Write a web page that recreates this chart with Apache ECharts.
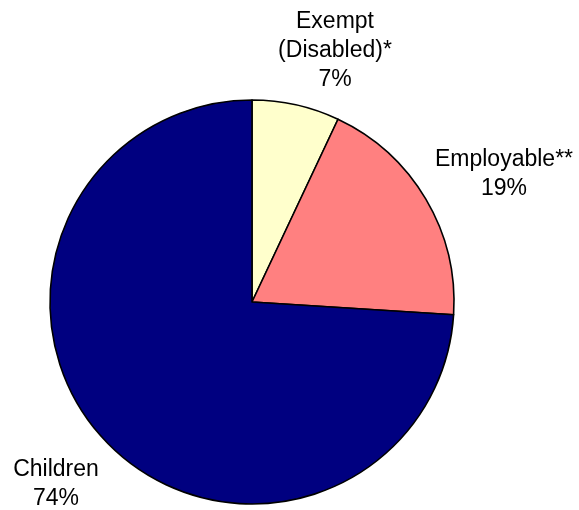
<!DOCTYPE html>
<html>
<head>
<meta charset="utf-8">
<script src="https://cdn.jsdelivr.net/npm/echarts@6/dist/echarts.min.js"></script>
<style>
  html, body { margin: 0; padding: 0; background: #ffffff; }
  #chart { width: 579px; height: 510px; }
</style>
</head>
<body>
<div id="chart"></div>
<script>
// Caseload composition
const categories = ['Exempt\n(Disabled)*', 'Employable**', 'Children'];
const shares = [7, 19, 74];
const colors = ['#FFFFCC', '#FF8080', '#000080'];

// Label anchor points (pixels) for each slice's caption
const labelAnchors = [
  { x: 335, y: 51 },
  { x: 504, y: 174 },
  { x: 56, y: 484 }
];

const chart = echarts.init(document.getElementById('chart'), null, { renderer: 'canvas' });

chart.setOption({
  animation: false,
  backgroundColor: '#ffffff',
  series: [{
    type: 'pie',
    center: [252, 302],
    radius: [0, 202],
    startAngle: 90,
    clockwise: true,
    data: categories.map((name, i) => ({
      name: name,
      value: shares[i],
      itemStyle: { color: colors[i] }
    })),
    itemStyle: { borderColor: '#000000', borderWidth: 1.6 },
    label: {
      show: true,
      position: 'outside',
      formatter: '{b}\n{d}%',
      fontFamily: 'Liberation Sans, Arial, sans-serif',
      fontSize: 23,
      lineHeight: 29,
      color: '#000000',
      align: 'center',
      overflow: 'none',
      edgeDistance: 0
    },
    labelLine: { show: false },
    labelLayout: function (params) {
      const a = labelAnchors[params.dataIndex];
      return { x: a.x, y: a.y, align: 'center', verticalAlign: 'middle' };
    },
    emphasis: { disabled: true }
  }]
});
</script>
</body>
</html>
